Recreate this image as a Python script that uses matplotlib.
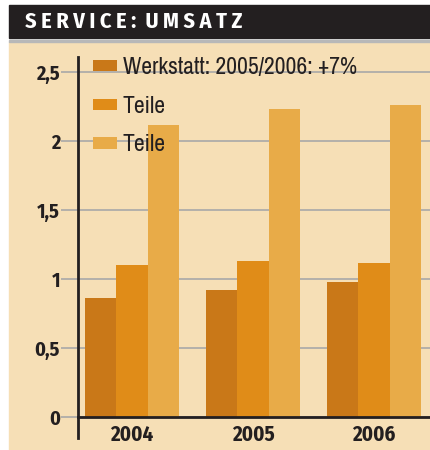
import matplotlib.pyplot as plt
from matplotlib.patches import Rectangle
import numpy as np

years = ["2004", "2005", "2006"]
werkstatt = [0.86, 0.92, 0.98]
teile_1 = [1.10, 1.13, 1.12]
teile_2 = [2.12, 2.23, 2.26]
labels = ["Werkstatt: 2005/2006: +7%", "Teile", "Teile"]
yticks = [0, 0.5, 1, 1.5, 2, 2.5]
ytick_labels = ["0", "0,5", "1", "1,5", "2", "2,5"]

colors = ["#C97818", "#E08C18", "#E8AB48"]
bg = "#F6DFB6"
dark = "#231F20"
bold_font = ["Fira Sans Condensed", "Roboto", "DejaVu Sans"]
text_font = ["Archivo Narrow", "Roboto", "DejaVu Sans"]

fig = plt.figure(figsize=(4.3, 4.5), dpi=100)

# header band and background
fig.patches.append(Rectangle((9 / 430, 0), 421 / 430, 408 / 450, transform=fig.transFigure,
                             color=bg, zorder=-5))
fig.patches.append(Rectangle((9 / 430, 412 / 450), 421 / 430, 33 / 450, transform=fig.transFigure,
                             color=dark, zorder=-5))
fig.patches.append(Rectangle((9 / 430, 408 / 450), 421 / 430, 2 / 450, transform=fig.transFigure,
                             color="#B8B8B8", zorder=-5))
title = "\u2009".join("SERVICE: UMSATZ").replace("\u2009 \u2009", "  ")
fig.text(25 / 430, 422 / 450, title, color="white", fontsize=16, fontweight="bold",
         family=bold_font, va="baseline")

ax = fig.add_axes([78 / 430, 12 / 450, 352 / 430, (438 - 57) / 450])
ax.patch.set_alpha(0)

x = np.arange(len(years))
w = 0.257
for i, (vals, c, lab) in enumerate(zip([werkstatt, teile_1, teile_2], colors, labels)):
    ax.bar(x + (i - 1) * w, vals, w, color=c, label=lab, zorder=3)

ax.set_xlim(-0.446, 2.463)
ax.set_ylim(-0.152, 2.61)
for s in ["top", "right"]:
    ax.spines[s].set_visible(False)
ax.spines["bottom"].set_position(("data", 0))
ax.spines["bottom"].set_zorder(4)
for s in ["left", "bottom"]:
    ax.spines[s].set_color(dark)
    ax.spines[s].set_linewidth(2)

ax.set_yticks(yticks)
ax.set_yticklabels(ytick_labels, family=bold_font, fontweight="bold", fontsize=14.5, color=dark)
ax.tick_params(axis="y", length=12, width=1.2, color="#A8A8A8", pad=1)
ax.yaxis.grid(True, color="#A8A8A8", lw=1.2, zorder=1)
ax.set_axisbelow(True)

ax.set_xticks(x)
ax.set_xticklabels(years, family=bold_font, fontweight="bold", fontsize=15, color=dark)
ax.tick_params(axis="x", length=0, pad=5)

leg = ax.legend(loc="upper left", bbox_to_anchor=(0.043, 1.0), frameon=False,
                prop={"family": text_font, "size": 17}, handlelength=1.0, handleheight=0.35,
                labelspacing=0.75, handletextpad=0.25, borderpad=0, borderaxespad=0)
for t in leg.get_texts():
    t.set_color(dark)

fig.savefig("out.png", dpi=100)
